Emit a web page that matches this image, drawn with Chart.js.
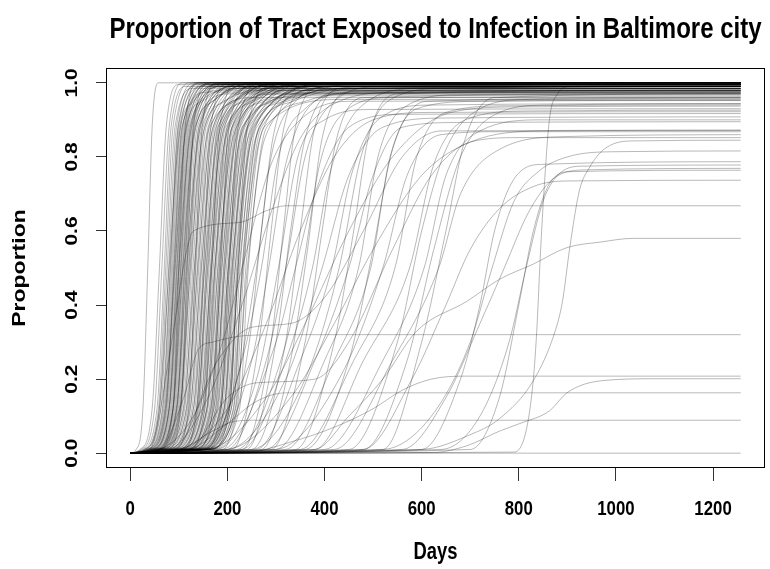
<!DOCTYPE html>
<html>
<head>
<meta charset="utf-8">
<title>Proportion of Tract Exposed to Infection in Baltimore city</title>
<script src="https://cdn.jsdelivr.net/npm/chart.js@4.4.1/dist/chart.umd.min.js"></script>
<style>
  html, body { margin: 0; padding: 0; background: #fff; }
</style>
</head>
<body>
<canvas id="tractChart" width="770" height="569"></canvas>
<script>
const chartTitle = "Proportion of Tract Exposed to Infection in Baltimore city";
const xTitle = "Days";
const yTitle = "Proportion";
const dayTicks = [0, 200, 400, 600, 800, 1000, 1200];
const proportionTicks = [0, 0.2, 0.4, 0.6, 0.8, 1.0];

// one entry per tract: day, proportion, day, proportion, ...
const earlyTracts = [
  [0,0, 12,0.01, 26,0.12, 36,0.5, 45,0.88, 58,1.0, 1257,1.0],
  [0,0, 20,0.01, 45,0.12, 60,0.5, 74,0.88, 100,0.995, 1257,0.995],
  [0,0, 22,0.01, 50,0.12, 65,0.5, 80,0.88, 110,1.0, 1257,1.0],
  [0,0, 25,0.01, 55,0.12, 70,0.5, 84,0.88, 115,0.99, 1257,0.99],
  [0,0, 28,0.01, 58,0.12, 73,0.5, 88,0.88, 125,1.0, 1257,1.0],
  [0,0, 30,0.01, 60,0.12, 76,0.5, 92,0.88, 130,0.985, 1257,0.985],
  [0,0, 32,0.01, 63,0.12, 79,0.5, 95,0.88, 135,1.0, 1257,1.0],
  [0,0, 34,0.01, 66,0.12, 82,0.5, 98,0.88, 140,0.995, 1257,0.995],
  [0,0, 36,0.01, 69,0.12, 85,0.5, 101,0.88, 150,0.99, 1257,0.99],
  [0,0, 38,0.01, 71,0.12, 87,0.5, 103,0.88, 150,1.0, 1257,1.0],
  [0,0, 40,0.01, 73,0.12, 89,0.5, 106,0.88, 160,0.975, 1257,0.975],
  [0,0, 42,0.01, 75,0.12, 91,0.5, 108,0.88, 160,1.0, 1257,1.0],
  [0,0, 44,0.01, 77,0.12, 93,0.5, 110,0.88, 165,0.995, 1257,0.995],
  [0,0, 45,0.01, 79,0.12, 95,0.5, 112,0.88, 170,1.0, 1257,1.0],
  [0,0, 47,0.01, 81,0.12, 97,0.5, 115,0.88, 175,0.99, 1257,0.99],
  [0,0, 48,0.01, 83,0.12, 99,0.5, 117,0.88, 175,1.0, 1257,1.0],
  [0,0, 50,0.01, 85,0.12, 101,0.5, 119,0.88, 180,0.995, 1257,0.995],
  [0,0, 52,0.01, 87,0.12, 103,0.5, 121,0.88, 185,0.98, 1257,0.98],
  [0,0, 54,0.01, 89,0.12, 105,0.5, 124,0.88, 190,1.0, 1257,1.0],
  [0,0, 55,0.01, 91,0.12, 107,0.5, 126,0.88, 190,0.99, 1257,0.99],
  [0,0, 57,0.01, 93,0.12, 109,0.5, 128,0.88, 195,1.0, 1257,1.0],
  [0,0, 58,0.01, 95,0.12, 111,0.5, 130,0.88, 200,0.995, 1257,0.995],
  [0,0, 60,0.01, 97,0.12, 113,0.5, 133,0.88, 205,0.97, 1257,0.97],
  [0,0, 62,0.01, 99,0.12, 115,0.5, 135,0.88, 210,1.0, 1257,1.0],
  [0,0, 64,0.01, 101,0.12, 118,0.5, 138,0.88, 215,0.99, 1257,0.99],
  [0,0, 65,0.01, 103,0.12, 120,0.5, 141,0.88, 220,1.0, 1257,1.0],
  [0,0, 67,0.01, 106,0.12, 123,0.5, 144,0.88, 225,0.995, 1257,0.995],
  [0,0, 70,0.01, 109,0.12, 126,0.5, 147,0.88, 230,0.985, 1257,0.985],
  [0,0, 72,0.01, 112,0.12, 129,0.5, 150,0.88, 235,1.0, 1257,1.0],
  [0,0, 75,0.01, 115,0.12, 132,0.5, 153,0.88, 240,0.99, 1257,0.99],
  [0,0, 78,0.01, 118,0.12, 135,0.5, 156,0.88, 245,1.0, 1257,1.0],
  [0,0, 80,0.01, 121,0.12, 138,0.5, 160,0.88, 250,0.995, 1257,0.995],
  [0,0, 82,0.01, 124,0.12, 141,0.5, 163,0.88, 255,0.96, 1257,0.96],
  [0,0, 85,0.01, 127,0.12, 144,0.5, 166,0.88, 260,1.0, 1257,1.0],
  [0,0, 88,0.01, 130,0.12, 147,0.5, 170,0.88, 265,0.99, 1257,0.99],
  [0,0, 90,0.01, 133,0.12, 150,0.5, 173,0.88, 270,1.0, 1257,1.0],
  [0,0, 92,0.01, 136,0.12, 153,0.5, 176,0.88, 275,0.995, 1257,0.995],
  [0,0, 95,0.01, 139,0.12, 156,0.5, 180,0.88, 280,0.98, 1257,0.98],
  [0,0, 98,0.01, 142,0.12, 159,0.5, 183,0.88, 285,1.0, 1257,1.0],
  [0,0, 100,0.01, 145,0.12, 162,0.5, 186,0.88, 290,0.99, 1257,0.99],
  [0,0, 103,0.01, 148,0.12, 165,0.5, 189,0.88, 295,1.0, 1257,1.0],
  [0,0, 106,0.01, 151,0.12, 168,0.5, 193,0.88, 300,0.995, 1257,0.995],
  [0,0, 108,0.01, 154,0.12, 171,0.5, 196,0.88, 305,0.97, 1257,0.97],
  [0,0, 110,0.01, 157,0.12, 174,0.5, 199,0.88, 310,1.0, 1257,1.0],
  [0,0, 113,0.01, 160,0.12, 177,0.5, 202,0.88, 315,0.99, 1257,0.99],
  [0,0, 116,0.01, 163,0.12, 180,0.5, 205,0.88, 320,1.0, 1257,1.0],
  [0,0, 118,0.01, 166,0.12, 183,0.5, 209,0.88, 325,0.995, 1257,0.995],
  [0,0, 120,0.01, 169,0.12, 186,0.5, 212,0.88, 330,0.985, 1257,0.985],
  [0,0, 123,0.01, 172,0.12, 189,0.5, 215,0.88, 335,1.0, 1257,1.0],
  [0,0, 126,0.01, 175,0.12, 192,0.5, 218,0.88, 340,0.99, 1257,0.99],
  [0,0, 128,0.01, 178,0.12, 195,0.5, 222,0.88, 345,1.0, 1257,1.0],
  [0,0, 130,0.01, 181,0.12, 198,0.5, 226,0.88, 350,0.995, 1257,0.995],
  [0,0, 133,0.01, 184,0.12, 201,0.5, 230,0.88, 360,0.965, 1257,0.965],
  [0,0, 136,0.01, 187,0.12, 204,0.5, 233,0.88, 365,1.0, 1257,1.0],
  [0,0, 138,0.01, 190,0.12, 207,0.5, 236,0.88, 370,0.99, 1257,0.99],
  [0,0, 140,0.01, 193,0.12, 210,0.5, 240,0.88, 375,0.995, 1257,0.995],
  [0,0, 143,0.01, 196,0.12, 213,0.5, 244,0.88, 380,0.98, 1257,0.98],
  [0,0, 146,0.01, 199,0.12, 216,0.5, 248,0.88, 390,1.0, 1257,1.0],
  [0,0, 148,0.01, 202,0.12, 219,0.5, 252,0.88, 395,0.99, 1257,0.99],
  [0,0, 150,0.01, 205,0.12, 222,0.5, 256,0.88, 400,0.995, 1257,0.995],
  [0,0, 153,0.01, 208,0.12, 226,0.5, 260,0.88, 410,0.975, 1257,0.975],
  [0,0, 156,0.01, 212,0.12, 230,0.5, 265,0.88, 420,1.0, 1257,1.0],
  [0,0, 160,0.01, 216,0.12, 234,0.5, 270,0.88, 430,0.99, 1257,0.99],
  [0,0, 164,0.01, 220,0.12, 238,0.5, 275,0.88, 440,0.955, 1257,0.955],
  [0,0, 168,0.01, 225,0.12, 243,0.5, 281,0.88, 450,0.985, 1257,0.985],
  [0,0, 35,0.01, 67,0.12, 83,0.5, 99,0.88, 145,1.0, 1257,1.0],
  [0,0, 41,0.01, 74,0.12, 90,0.5, 107,0.88, 160,0.995, 1257,0.995],
  [0,0, 46,0.01, 80,0.12, 96,0.5, 114,0.88, 170,1.0, 1257,1.0],
  [0,0, 53,0.01, 88,0.12, 104,0.5, 123,0.88, 185,0.995, 1257,0.995],
  [0,0, 59,0.01, 96,0.12, 112,0.5, 132,0.88, 200,1.0, 1257,1.0],
  [0,0, 66,0.01, 104,0.12, 121,0.5, 142,0.88, 220,0.99, 1257,0.99],
  [0,0, 96,0.01, 140,0.12, 157,0.5, 181,0.88, 280,1.0, 1257,1.0],
  [0,0, 104,0.01, 149,0.12, 166,0.5, 190,0.88, 295,0.995, 1257,0.995],
  [0,0, 112,0.01, 158,0.12, 175,0.5, 200,0.88, 310,1.0, 1257,1.0],
  [0,0, 119,0.01, 167,0.12, 184,0.5, 210,0.88, 325,0.99, 1257,0.99],
  [0,0, 127,0.01, 176,0.12, 193,0.5, 220,0.88, 340,1.0, 1257,1.0],
  [0,0, 134,0.01, 185,0.12, 202,0.5, 231,0.88, 360,0.995, 1257,0.995],
  [0,0, 142,0.01, 194,0.12, 211,0.5, 242,0.88, 378,1.0, 1257,1.0],
  [0,0, 150,0.01, 204,0.12, 221,0.5, 254,0.88, 398,0.99, 1257,0.99],
  [0,0, 157,0.01, 213,0.12, 231,0.5, 266,0.88, 420,1.0, 1257,1.0]
];

// early tracts with a slower approach to their ceiling
const slowTopTracts = [
  [0,0, 30,0.01, 60,0.12, 80,0.5, 100,0.85, 130,0.95, 200,0.99, 1257,0.99],
  [0,0, 38,0.01, 72,0.12, 92,0.5, 112,0.85, 145,0.95, 230,0.985, 1257,0.985],
  [0,0, 45,0.01, 80,0.12, 100,0.5, 122,0.85, 160,0.96, 250,0.995, 1257,0.995],
  [0,0, 50,0.01, 88,0.12, 108,0.5, 130,0.85, 170,0.95, 270,0.99, 1257,0.99],
  [0,0, 55,0.01, 95,0.12, 116,0.5, 140,0.85, 180,0.96, 280,1.0, 1257,1.0],
  [0,0, 60,0.01, 102,0.12, 124,0.5, 148,0.85, 195,0.95, 300,0.985, 1257,0.985],
  [0,0, 65,0.01, 110,0.12, 132,0.5, 157,0.85, 205,0.96, 310,0.995, 1257,0.995],
  [0,0, 70,0.01, 116,0.12, 139,0.5, 165,0.85, 215,0.95, 330,0.99, 1257,0.99],
  [0,0, 76,0.01, 123,0.12, 146,0.5, 172,0.85, 225,0.96, 340,1.0, 1257,1.0],
  [0,0, 82,0.01, 130,0.12, 153,0.5, 180,0.85, 235,0.95, 350,0.98, 1257,0.98],
  [0,0, 88,0.01, 137,0.12, 160,0.5, 188,0.85, 245,0.96, 360,0.995, 1257,0.995],
  [0,0, 94,0.01, 144,0.12, 167,0.5, 196,0.85, 255,0.95, 380,0.99, 1257,0.99],
  [0,0, 100,0.01, 151,0.12, 174,0.5, 203,0.85, 265,0.96, 390,1.0, 1257,1.0],
  [0,0, 106,0.01, 158,0.12, 181,0.5, 211,0.85, 275,0.95, 400,0.975, 1257,0.975],
  [0,0, 112,0.01, 165,0.12, 188,0.5, 218,0.85, 285,0.96, 410,0.995, 1257,0.995],
  [0,0, 118,0.01, 172,0.12, 195,0.5, 226,0.85, 295,0.95, 420,0.99, 1257,0.99],
  [0,0, 124,0.01, 179,0.12, 202,0.5, 234,0.85, 305,0.96, 440,1.0, 1257,1.0],
  [0,0, 130,0.01, 186,0.12, 209,0.5, 242,0.85, 315,0.95, 450,0.985, 1257,0.985],
  [0,0, 136,0.01, 193,0.12, 216,0.5, 250,0.85, 325,0.96, 460,0.995, 1257,0.995],
  [0,0, 142,0.01, 200,0.12, 224,0.5, 258,0.85, 335,0.95, 480,0.99, 1257,0.99],
  [0,0, 150,0.01, 208,0.12, 232,0.5, 267,0.85, 345,0.96, 500,1.0, 1257,1.0],
  [0,0, 158,0.01, 217,0.12, 241,0.5, 277,0.85, 360,0.95, 520,0.98, 1257,0.98],
  [0,0, 60,0.01, 88,0.12, 100,0.5, 113,0.88, 140,1.0, 1257,1.0],
  [0,0, 75,0.01, 104,0.12, 117,0.5, 130,0.88, 160,0.995, 1257,0.995],
  [0,0, 90,0.01, 120,0.12, 134,0.5, 148,0.88, 180,1.0, 1257,1.0],
  [0,0, 105,0.01, 137,0.12, 151,0.5, 166,0.88, 200,0.995, 1257,0.995],
  [0,0, 120,0.01, 153,0.12, 168,0.5, 184,0.88, 225,1.0, 1257,1.0],
  [0,0, 135,0.01, 170,0.12, 186,0.5, 203,0.88, 250,0.99, 1257,0.99],
  [0,0, 150,0.01, 187,0.12, 204,0.5, 222,0.88, 270,1.0, 1257,1.0],
  [0,0, 165,0.01, 204,0.12, 222,0.5, 241,0.88, 295,0.995, 1257,0.995],
  [0,0, 80,0.01, 160,0.15, 230,0.4, 290,0.65, 350,0.85, 430,0.95, 560,0.975, 1257,0.978],
  [0,0, 100,0.01, 200,0.12, 280,0.35, 350,0.6, 420,0.8, 500,0.9, 620,0.92, 1257,0.922],
  [0,0, 60,0.01, 130,0.1, 190,0.3, 240,0.55, 290,0.78, 350,0.9, 450,0.95, 1257,0.952]
];

const midTracts = [
  [0,0, 150,0.01, 220,0.2, 260,0.5, 290,0.8, 340,0.95, 420,0.99, 1257,0.995],
  [0,0, 160,0.01, 230,0.25, 270,0.5, 305,0.8, 360,0.93, 450,0.97, 1257,0.975],
  [0,0, 170,0.01, 250,0.25, 285,0.5, 320,0.78, 380,0.95, 480,0.985, 1257,0.99],
  [0,0, 180,0.01, 260,0.2, 305,0.5, 345,0.8, 400,0.9, 500,0.928, 1257,0.93],
  [0,0, 200,0.01, 280,0.25, 320,0.5, 360,0.8, 420,0.95, 520,0.99, 1257,0.995],
  [0,0, 190,0.01, 300,0.3, 340,0.5, 380,0.7, 450,0.88, 560,0.915, 1257,0.917],
  [0,0, 220,0.01, 310,0.25, 355,0.5, 390,0.78, 440,0.92, 540,0.96, 1257,0.962],
  [0,0, 230,0.01, 320,0.25, 375,0.5, 410,0.75, 470,0.93, 600,0.985, 1257,0.99],
  [0,0, 200,0.01, 320,0.2, 395,0.5, 450,0.75, 520,0.88, 650,0.905, 1257,0.908],
  [0,0, 260,0.01, 350,0.25, 415,0.5, 455,0.75, 510,0.9, 620,0.94, 1257,0.944],
  [0,0, 250,0.01, 360,0.2, 430,0.5, 475,0.8, 530,0.95, 650,0.985, 1257,0.99],
  [0,0, 280,0.01, 380,0.25, 450,0.5, 500,0.75, 560,0.88, 680,0.893, 1257,0.895],
  [0,0, 300,0.01, 400,0.25, 470,0.5, 510,0.8, 560,0.93, 680,0.968, 1257,0.971],
  [0,0, 320,0.01, 420,0.25, 495,0.5, 535,0.8, 590,0.93, 720,0.95, 1257,0.953],
  [0,0, 300,0.01, 430,0.2, 520,0.5, 570,0.75, 640,0.86, 760,0.868, 1257,0.868],
  [0,0, 350,0.01, 460,0.25, 545,0.5, 590,0.8, 650,0.92, 780,0.938, 1257,0.94],
  [0,0, 380,0.01, 480,0.25, 575,0.5, 625,0.78, 690,0.9, 820,0.924, 1257,0.926],
  [0,0, 400,0.01, 520,0.25, 605,0.5, 650,0.75, 720,0.87, 850,0.9, 1257,0.9],
  [0,0, 420,0.01, 540,0.25, 635,0.5, 680,0.7, 760,0.82, 900,0.855, 1257,0.86],
  [0,0, 160,0.01, 280,0.15, 360,0.35, 450,0.6, 540,0.8, 660,0.92, 800,0.935, 1257,0.937],
  [0,0, 200,0.01, 330,0.15, 420,0.35, 500,0.55, 600,0.75, 700,0.84, 850,0.87, 1257,0.872],
  [0,0, 240,0.01, 300,0.3, 330,0.6, 360,0.85, 420,0.97, 1257,0.98],
  [0,0, 270,0.01, 330,0.25, 365,0.55, 395,0.85, 450,0.975, 1257,0.985],
  [0,0, 290,0.01, 360,0.3, 395,0.6, 425,0.85, 480,0.96, 1257,0.97],
  [0,0, 340,0.01, 420,0.3, 460,0.6, 490,0.85, 550,0.97, 1257,0.98],
  [0,0, 360,0.01, 450,0.25, 500,0.55, 540,0.82, 610,0.95, 1257,0.96],
  [0,0, 230,0.01, 290,0.3, 315,0.6, 340,0.88, 390,0.985, 1257,0.99],
  [0,0, 210,0.01, 265,0.3, 290,0.6, 315,0.87, 360,0.98, 1257,0.99],
  [0,0, 190,0.01, 245,0.3, 270,0.6, 295,0.86, 340,0.97, 1257,0.975],
  [0,0, 250,0.01, 320,0.3, 350,0.6, 380,0.88, 440,0.985, 1257,0.99],
  [0,0, 450,0.01, 550,0.3, 600,0.6, 650,0.82, 720,0.93, 820,0.955, 1257,0.958],
  [0,0, 480,0.01, 570,0.25, 625,0.55, 680,0.8, 760,0.92, 860,0.94, 1257,0.943],
  [0,0, 520,0.01, 600,0.3, 650,0.6, 690,0.85, 750,0.96, 1257,0.97]
];

const lateTracts = [
  [0,0, 790,0.003, 815,0.06, 830,0.2, 837,0.33, 845,0.55, 852,0.71, 863,0.9, 880,0.97, 905,0.99, 1257,0.993],
  [0,0, 600,0.01, 700,0.05, 760,0.093, 830,0.196, 875,0.33, 890,0.41, 905,0.555, 925,0.71, 945,0.77, 975,0.82, 1030,0.843, 1257,0.845],
  [0,0, 520,0.01, 620,0.1, 700,0.3, 745,0.5, 790,0.68, 840,0.76, 900,0.8, 1000,0.814, 1257,0.816],
  [0,0, 640,0.01, 720,0.1, 780,0.3, 815,0.5, 850,0.68, 880,0.75, 930,0.775, 1257,0.778],
  [0,0, 560,0.01, 650,0.15, 720,0.35, 770,0.5, 820,0.65, 870,0.74, 940,0.765, 1257,0.769],
  [0,0, 480,0.01, 580,0.2, 650,0.4, 700,0.55, 760,0.66, 830,0.72, 900,0.735, 1257,0.737],
  [0,0, 600,0.01, 680,0.2, 720,0.4, 750,0.6, 790,0.74, 850,0.78, 1257,0.787],
  [0,0, 380,0.01, 450,0.1, 520,0.2, 590,0.33, 693,0.41, 761,0.47, 829,0.51, 899,0.555, 968,0.57, 1036,0.58, 1257,0.58],
  [0,0, 623,0.002, 693,0.02, 761,0.06, 802,0.08, 864,0.115, 899,0.163, 973,0.196, 1084,0.201, 1257,0.201],
  [0,0, 250,0.005, 330,0.03, 420,0.07, 500,0.12, 560,0.17, 620,0.2, 690,0.208, 1257,0.208],
  [0,0, 700,0.01, 760,0.15, 800,0.4, 830,0.6, 860,0.72, 900,0.76, 1257,0.764]
];

// tracts that stall below full exposure or climb in two steps
const partialTracts = [
  [0,0, 40,0.01, 85,0.3, 115,0.54, 130,0.6, 225,0.623, 281,0.655, 320,0.668, 1257,0.668],
  [0,0, 60,0.01, 110,0.15, 140,0.28, 170,0.3, 240,0.318, 320,0.32, 1257,0.32],
  [0,0, 120,0.01, 200,0.08, 260,0.14, 320,0.163, 1257,0.163],
  [0,0, 100,0.01, 170,0.06, 215,0.086, 260,0.089, 1257,0.089],
  [0,0, 1257,0],
  [0,0, 120,0.01, 200,0.15, 260,0.19, 380,0.2, 450,0.3, 540,0.55, 620,0.75, 700,0.84, 800,0.852, 1257,0.852],
  [0,0, 90,0.01, 180,0.25, 250,0.34, 330,0.35, 400,0.42, 480,0.6, 560,0.8, 640,0.87, 1257,0.872]
];

const allTracts = [...earlyTracts, ...slowTopTracts, ...midTracts, ...lateTracts, ...partialTracts];

function toPoints(flat) {
  const pts = [];
  for (let i = 0; i < flat.length; i += 2) {
    pts.push({ x: flat[i], y: flat[i + 1] });
  }
  return pts;
}

const datasets = allTracts.map((tract, i) => ({
  label: 'tract ' + (i + 1),
  data: toPoints(tract),
  borderColor: 'rgba(0,0,0,0.28)',
  borderWidth: 1,
  pointRadius: 0,
  fill: false,
  cubicInterpolationMode: 'monotone'
}));

const FONT = '"Liberation Sans", Arial, Helvetica, sans-serif';

// text in the plot is drawn a little narrower than the font's natural width
function drawLabel(ctx, text, x, y, size, vertical) {
  ctx.save();
  ctx.translate(x, y);
  ctx.scale(0.8, 1);
  if (vertical) ctx.rotate(-Math.PI / 2);
  ctx.font = 'bold ' + size + 'px ' + FONT;
  ctx.fillStyle = '#000';
  ctx.textAlign = 'center';
  ctx.textBaseline = 'alphabetic';
  ctx.fillText(text, 0, 0);
  ctx.restore();
}

const framePlugin = {
  id: 'frame',
  afterDraw(chart) {
    const { ctx, chartArea: a } = chart;
    const xs = chart.scales.x;
    const ys = chart.scales.y;
    ctx.save();
    ctx.strokeStyle = '#000';
    ctx.lineWidth = 1;
    ctx.strokeRect(a.left + 0.5, a.top + 0.5, a.right - a.left - 1, a.bottom - a.top - 1);
    ctx.restore();

    const midX = (a.left + a.right) / 2;
    const midY = (a.top + a.bottom) / 2;
    drawLabel(ctx, chartTitle, midX, 38, 30, false);

    dayTicks.forEach(v => drawLabel(ctx, String(v), xs.getPixelForValue(v), 515, 21, false));
    proportionTicks.forEach(v => drawLabel(ctx, v.toFixed(1), 77, ys.getPixelForValue(v), 21, true));

    drawLabel(ctx, xTitle, midX, 559, 23, false);
    drawLabel(ctx, yTitle, 25, midY, 23, true);
  }
};

new Chart(document.getElementById('tractChart'), {
  type: 'line',
  data: { datasets },
  options: {
    responsive: false,
    animation: false,
    events: [],
    layout: { padding: { top: 68, right: 5, left: 0, bottom: 0 } },
    plugins: {
      legend: { display: false },
      title: { display: false },
      tooltip: { enabled: false }
    },
    scales: {
      x: {
        type: 'linear',
        min: -50,
        max: 1307,
        afterBuildTicks: s => { s.ticks = dayTicks.map(v => ({ value: v })); },
        afterFit: s => { s.height = 101; },
        ticks: { display: false },
        grid: { drawOnChartArea: false, drawTicks: true, tickLength: 13, color: '#333' },
        border: { display: false }
      },
      y: {
        type: 'linear',
        min: -0.04,
        max: 1.04,
        afterBuildTicks: s => { s.ticks = proportionTicks.map(v => ({ value: v })); },
        afterFit: s => { s.width = 106; },
        ticks: { display: false },
        grid: { drawOnChartArea: false, drawTicks: true, tickLength: 10, color: '#333' },
        border: { display: false }
      }
    }
  },
  plugins: [framePlugin]
});
</script>
</body>
</html>
